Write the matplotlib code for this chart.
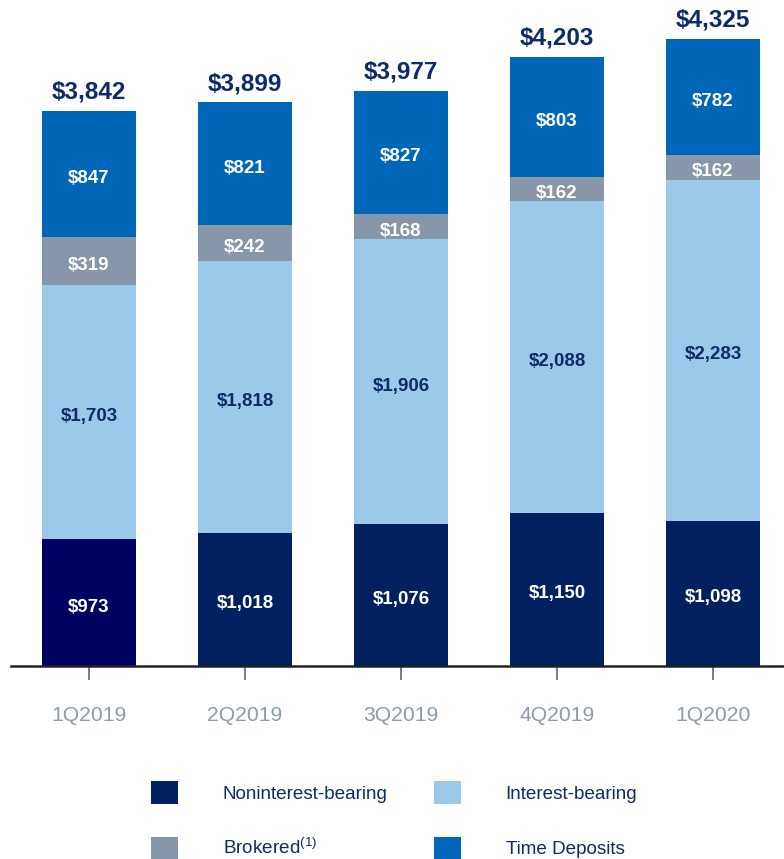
import matplotlib
matplotlib.use("Agg")
import matplotlib.pyplot as plt
import numpy as np

plt.rcParams['font.family'] = ['Liberation Sans', 'DejaVu Sans']

quarters = ['1Q2019', '2Q2019', '3Q2019', '4Q2019', '1Q2020']
noninterest = [973, 1018, 1076, 1150, 1098]
interest = [1703, 1818, 1906, 2088, 2283]
brokered = [319, 242, 168, 162, 162]
time_dep = [847, 821, 827, 803, 782]
totals = [3842, 3899, 3977, 4203, 4325]

c_non = '#002060'
c_non_first = '#000060'
c_int = '#9BC9EA'
c_bro = '#8796A8'
c_time = '#0066B8'
navy = '#0F2A6B'

W, H = 784, 859
fig = plt.figure(figsize=(W / 100, H / 100), dpi=100)
ax = fig.add_axes([11 / W, (H - 666) / H, (W - 11) / W, 666 / H])

x = np.arange(len(quarters))
bw = 0.6
ymin, ymax = 125, 4583

non_colors = [c_non_first] + [c_non] * (len(quarters) - 1)
b1 = ax.bar(x, noninterest, bw, color=non_colors, label='Noninterest-bearing')
bottom = np.array(noninterest, dtype=float)
b2 = ax.bar(x, interest, bw, bottom=bottom, color=c_int, label='Interest-bearing')
bottom2 = bottom + interest
b3 = ax.bar(x, brokered, bw, bottom=bottom2, color=c_bro, label='Brokered$^{\\mathregular{(1)}}$')
bottom3 = bottom2 + brokered
b4 = ax.bar(x, time_dep, bw, bottom=bottom3, color=c_time, label='Time Deposits')

ax.set_xlim(-0.5, 4.455)
ax.set_ylim(ymin, ymax)

def lab(v, lo, hi, color):
    for i in range(len(v)):
        y = (max(lo[i], ymin) + hi[i]) / 2
        ax.annotate('${:,}'.format(v[i]), (x[i], y), xytext=(0, -1.8),
                    textcoords='offset points', ha='center', va='center_baseline',
                    color=color, fontsize=13.5, fontweight='bold')

lab(noninterest, np.zeros(5), bottom, 'white')
lab(interest, bottom, bottom2, navy)
lab(brokered, bottom2, bottom3, 'white')
lab(time_dep, bottom3, bottom3 + time_dep, 'white')

for i in range(len(totals)):
    ax.annotate('${:,}'.format(totals[i]), (x[i], totals[i]), xytext=(0, 5),
                textcoords='offset points', ha='center', va='bottom',
                color=navy, fontsize=17.5, fontweight='bold')

for s in ['top', 'right', 'left']:
    ax.spines[s].set_visible(False)
ax.spines['bottom'].set_linewidth(1.8)
ax.spines['bottom'].set_color('#222222')
ax.set_yticks([])
ax.set_xticks(x)
ax.set_xticklabels(quarters, fontsize=15.2, color='#8C9BAA')
ax.tick_params(axis='x', length=10, width=1.2, color='#666666', pad=19)

handles = [b1.patches[1], b2, b3, b4]
labels = ['Noninterest-bearing', 'Interest-bearing',
          'Brokered$^{\\mathregular{(1)}}$', 'Time Deposits']
leg = fig.legend([handles[0], handles[2], handles[1], handles[3]],
                 [labels[0], labels[2], labels[1], labels[3]],
                 ncol=2, loc='upper left', bbox_to_anchor=(134 / W, 1 - 764 / H),
                 frameon=False, fontsize=13.6, handlelength=1.43, handleheight=1.48,
                 handletextpad=2.38, columnspacing=2.43, labelspacing=1.75)
for t in leg.get_texts():
    t.set_color(navy)

fig.savefig('out.png', dpi=100)
